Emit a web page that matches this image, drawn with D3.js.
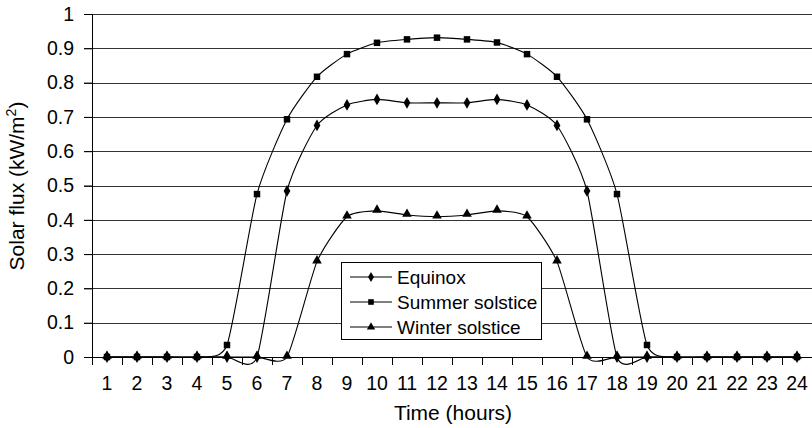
<!DOCTYPE html>
<html>
<head>
<meta charset="utf-8">
<script src="https://cdn.jsdelivr.net/npm/d3@7"></script>
<style>
  body { margin: 0; background: #fff; }
  svg { display: block; font-family: "Liberation Sans", Arial, sans-serif; }
</style>
</head>
<body>
<svg id="chart" width="812" height="428"></svg>
<script>
// data
var hours = d3.range(1, 25);
var equinox = [0, 0, 0, 0, 0, 0, 0.484, 0.675, 0.735, 0.751, 0.741, 0.741,
               0.741, 0.751, 0.735, 0.675, 0.484, 0, 0, 0, 0, 0, 0, 0];
var summer = [0, 0, 0, 0, 0.035, 0.475, 0.693, 0.817, 0.883, 0.916, 0.926, 0.931,
              0.926, 0.917, 0.883, 0.817, 0.693, 0.475, 0.035, 0, 0, 0, 0, 0];
var winter = [0, 0, 0, 0, 0, 0, 0, 0.278, 0.409, 0.426, 0.414, 0.409,
              0.414, 0.426, 0.409, 0.278, 0, 0, 0, 0, 0, 0, 0, 0];
var yTicks = [0, 0.1, 0.2, 0.3, 0.4, 0.5, 0.6, 0.7, 0.8, 0.9, 1];

var series = [
  { name: "Equinox", values: equinox, symbol: d3.symbolDiamond, size: 40 },
  { name: "Summer solstice", values: summer, symbol: d3.symbolSquare, size: 42 },
  { name: "Winter solstice", values: winter, symbol: d3.symbolTriangle, size: 40 }
];

var margin = { top: 14, right: 0, bottom: 71, left: 92 };
var width = 812 - margin.left - margin.right;
var height = 428 - margin.top - margin.bottom;

var svg = d3.select("#chart");
var chart = svg.append("g")
    .attr("transform", "translate(" + margin.left + "," + margin.top + ")");

var x = d3.scaleBand().domain(hours).range([0, width]).padding(0);
var y = d3.scaleLinear().domain([0, 1]).range([height, 0]);
var cx = function (h) { return x(h) + x.bandwidth() / 2; };

// gridlines (also the top border)
chart.selectAll(".grid")
    .data(yTicks.filter(function (d) { return d > 0; }))
    .enter().append("line")
    .attr("x1", -8).attr("x2", width)
    .attr("y1", function (d) { return Math.round(y(d)) + 0.5; })
    .attr("y2", function (d) { return Math.round(y(d)) + 0.5; })
    .attr("stroke", "#333")
    .attr("stroke-width", 1);

// y axis
var yAxis = d3.axisLeft(y).tickValues(yTicks).tickSize(8).tickPadding(10)
    .tickFormat(function (d) { return d === 0 || d === 1 ? d3.format("d")(d) : d3.format(".1f")(d); });
var gy = chart.append("g").call(yAxis);
gy.select(".domain").remove();
gy.selectAll("line").attr("stroke", "#000");
gy.selectAll("text").attr("font-size", 19.5).attr("fill", "#000");
chart.append("line")
    .attr("x1", 0.5).attr("x2", 0.5)
    .attr("y1", 0).attr("y2", height + 8)
    .attr("stroke", "#000");

// x axis: labels at band centres, ticks between categories
var xAxis = d3.axisBottom(x).tickSize(0).tickPadding(19);
var gx = chart.append("g").attr("transform", "translate(0," + height + ")").call(xAxis);
gx.select(".domain").remove();
gx.selectAll("text").attr("font-size", 19.5).attr("fill", "#000");
chart.append("line")
    .attr("x1", 0).attr("x2", width)
    .attr("y1", Math.round(height) + 0.5).attr("y2", Math.round(height) + 0.5)
    .attr("stroke", "#000");
chart.selectAll(".xtick")
    .data(hours.slice(1))
    .enter().append("line")
    .attr("x1", function (d) { return Math.round(x(d)) + 0.5; })
    .attr("x2", function (d) { return Math.round(x(d)) + 0.5; })
    .attr("y1", height).attr("y2", height + 8)
    .attr("stroke", "#000");

// smoothed lines
var line = d3.line()
    .curve(d3.curveCardinal.tension(0.4))
    .x(function (d, i) { return cx(hours[i]); })
    .y(function (d) { return y(d); });

chart.selectAll(".series")
    .data(series)
    .enter().append("path")
    .attr("fill", "none")
    .attr("stroke", "#000")
    .attr("stroke-width", 1.1)
    .attr("d", function (d) { return line(d.values); });

// markers
series.forEach(function (s) {
  var sym = d3.symbol().type(s.symbol).size(s.size);
  chart.selectAll(null)
      .data(s.values)
      .enter().append("path")
      .attr("d", sym)
      .attr("fill", "#000")
      .attr("transform", function (d, i) {
        var dy = s.symbol === d3.symbolTriangle ? -1 : 0;
        return "translate(" + cx(hours[i]) + "," + (y(d) + dy) + ")";
      });
});

// axis titles
svg.append("text")
    .attr("x", 453).attr("y", 420)
    .attr("text-anchor", "middle")
    .attr("font-size", 21)
    .text("Time (hours)");

var yTitle = svg.append("text")
    .attr("transform", "translate(24,186) rotate(-90)")
    .attr("text-anchor", "middle")
    .attr("font-size", 21);
yTitle.append("tspan").text("Solar flux (kW/m");
yTitle.append("tspan").attr("font-size", 14).attr("dy", -8).text("2");
yTitle.append("tspan").attr("dy", 8).text(")");

// legend
var legend = svg.append("g").attr("transform", "translate(341,262)");
legend.append("rect")
    .attr("x", 0.5).attr("y", 0.5)
    .attr("width", 200).attr("height", 77)
    .attr("fill", "#fff").attr("stroke", "#000");
var item = legend.selectAll(".item")
    .data(series)
    .enter().append("g")
    .attr("transform", function (d, i) { return "translate(0," + (15 + i * 25) + ")"; });
item.append("line")
    .attr("x1", 9).attr("x2", 51)
    .attr("stroke", "#000").attr("stroke-width", 1.1);
item.append("path")
    .attr("d", function (d) { return d3.symbol().type(d.symbol).size(d.size * 0.75)(); })
    .attr("transform", "translate(30,0)")
    .attr("fill", "#000");
item.append("text")
    .attr("x", 56).attr("dy", "0.35em")
    .attr("font-size", 19)
    .text(function (d) { return d.name; });
</script>
</body>
</html>
